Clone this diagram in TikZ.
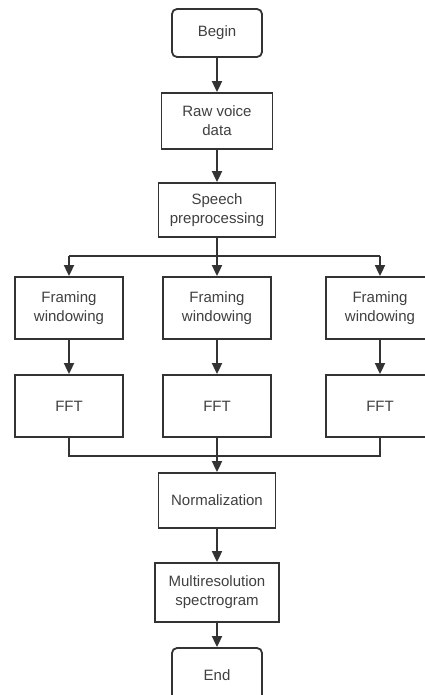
\documentclass[tikz,border=0pt]{standalone}
\usepackage{fontspec}
\setmainfont{Liberation Sans}
\usetikzlibrary{arrows.meta,calc}
\definecolor{edge}{HTML}{333333}
\definecolor{ink}{HTML}{404040}
\tikzset{
  box/.style={draw=edge, line width=1.8pt, fill=white, align=center,
    text=ink, font=\fontsize{15}{19}\selectfont, inner sep=0pt},
  terminal/.style={box, rounded corners=5pt},
  flow/.style={draw=edge, line width=1.8pt},
  arrow/.style={flow, -{Triangle[length=11pt,width=10pt]}},
}
\begin{document}
\begin{tikzpicture}[x=1pt,y=-1pt]
\useasboundingbox (0,0) rectangle (424,695);
% main column
\node[terminal, minimum width=90pt, minimum height=48pt] (begin) at (217,33) {Begin};
\node[box, minimum width=111pt, minimum height=56pt] (raw) at (217,121) {Raw voice\\data};
\node[box, minimum width=117pt, minimum height=54pt] (speech) at (217,210) {Speech\\preprocessing};
% three parallel branches
\node[box, minimum width=108pt, minimum height=62pt] (fw1) at (69,308) {Framing\\windowing};
\node[box, minimum width=108pt, minimum height=62pt] (fw2) at (217,308) {Framing\\windowing};
\node[box, minimum width=108pt, minimum height=62pt] (fw3) at (380,308) {Framing\\windowing};
\node[box, minimum width=108pt, minimum height=62pt] (fft1) at (69,406) {FFT};
\node[box, minimum width=108pt, minimum height=62pt] (fft2) at (217,406) {FFT};
\node[box, minimum width=108pt, minimum height=62pt] (fft3) at (380,406) {FFT};
% lower column
\node[box, minimum width=117pt, minimum height=55pt] (norm) at (217,500.5) {Normalization};
\node[box, minimum width=124pt, minimum height=59pt] (multi) at (217,592.5) {Multiresolution\\spectrogram};
\node[terminal, minimum width=90pt, minimum height=54pt] (end) at (217,675) {End};

\coordinate (split) at (217,256);
\coordinate (merge) at (217,456);

\draw[arrow] (begin) -- (raw);
\draw[arrow] (raw) -- (speech);
% fan-out to the branches
\draw[flow] (speech.south) -- (split);
\draw[flow] (fw1.north |- split) -- (fw3.north |- split);
\draw[arrow] (split) -- (fw2.north);
\draw[arrow] (fw1.north |- split) -- (fw1.north);
\draw[arrow] (fw3.north |- split) -- (fw3.north);
\draw[arrow] (fw1) -- (fft1);
\draw[arrow] (fw2) -- (fft2);
\draw[arrow] (fw3) -- (fft3);
% merge of the branches
\draw[flow] (fft1.south) -- (fft1.south |- merge) -- (fft3.south |- merge) -- (fft3.south);
\draw[flow] (fft2.south) -- (merge);
\draw[arrow] (merge) -- (norm.north);
\draw[arrow] (norm) -- (multi);
\draw[arrow] (multi) -- (end);
\end{tikzpicture}
\end{document}
